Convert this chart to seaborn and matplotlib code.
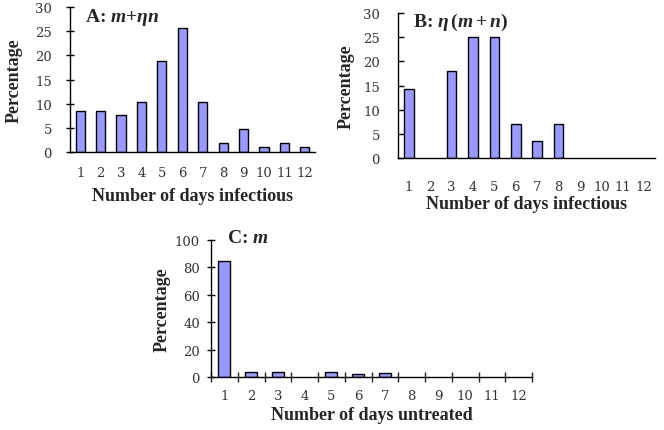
import numpy as np
import pandas as pd
import matplotlib
matplotlib.use("Agg")
import matplotlib.pyplot as plt
import seaborn as sns

# Data
days = [str(d) for d in range(1, 13)]
pct_a = [8.4, 8.4, 7.7, 10.4, 18.8, 25.6, 10.4, 1.9, 4.7, 1.0, 1.9, 1.0]
pct_b = [14.3, 0, 17.9, 25.0, 25.0, 7.1, 3.6, 7.1, 0, 0, 0, 0]
pct_c = [84.5, 3.4, 3.4, 0, 3.4, 1.9, 2.7, 0, 0, 0, 0, 0]

sns.set_theme(style="white")
plt.rcParams['font.family'] = ['Liberation Serif', 'DejaVu Serif']
plt.rcParams['mathtext.fontset'] = 'custom'
plt.rcParams['mathtext.it'] = 'Liberation Serif:italic:bold'
plt.rcParams['mathtext.rm'] = 'Liberation Serif:bold'

W, H = 664, 431
fig = plt.figure(figsize=(W / 100, H / 100), dpi=100)


def px_axes(left, right, top, bottom):
    return fig.add_axes([left / W, 1 - bottom / H, (right - left) / W, (bottom - top) / H])


bar_color = '#9999ff'
tick_font = dict(family='DejaVu Serif', size=9.5)

panels = [
    # box, values, ymax, ystep, title, title pos (px), xlabel, ytick dir, ytick pad, xtick pad, ylabel x (px), xlabel y (px), boundary ticks
    ((70, 315, 8, 153), pct_a, 30, 5, r'A: $m$+$\eta n$', (85, 18), 'Number of days infectious', 'inout', 10, 10, 14, 197, False),
    ((398, 655, 14, 159), pct_b, 30, 5, r'B: $\eta\,(m+n)$', (413, 22), 'Number of days infectious', 'in', 13, 16, 346, 205, False),
    ((211, 532, 241, 378), pct_c, 100, 20, r'C: $m$', (227, 239), 'Number of days untreated', 'inout', 5, 9, 162, 416, True),
]

for box, vals, ymax, ystep, title, tpos, xlabel, ydir, ypad, xpad, ylx, xly, xticks_between in panels:
    ax = px_axes(*box)
    df = pd.DataFrame({'day': days, 'pct': vals})
    sns.barplot(data=df, x='day', y='pct', color=bar_color, width=0.45,
                edgecolor='black', linewidth=1.0, saturation=1, ax=ax)
    # empty categories show no bar at all
    for p in ax.patches:
        if p.get_height() == 0:
            p.set_visible(False)
    ax.set_xlim(-0.5, 11.5)
    ax.set_ylim(0, ymax)
    ax.set_yticks(np.arange(0, ymax + 1, ystep))
    ax.spines['top'].set_visible(False)
    ax.spines['right'].set_visible(False)
    for s in ('left', 'bottom'):
        ax.spines[s].set_linewidth(1.0)
        ax.spines[s].set_color('black')
    ax.tick_params(axis='y', direction=ydir, length=6 if ydir == 'inout' else 4,
                   width=1, left=True, colors='black', labelcolor='#333333', pad=ypad)
    ax.tick_params(axis='x', length=0, labelcolor='#333333', pad=xpad)
    for lab in ax.get_xticklabels() + ax.get_yticklabels():
        lab.set_fontfamily(tick_font['family'])
        lab.set_fontsize(tick_font['size'])
    if xticks_between:
        ax.set_xticks(np.arange(-0.5, 12, 1), minor=True)
        ax.tick_params(axis='x', which='minor', direction='inout', length=7, width=1, bottom=True)
    ax.set_xlabel('')
    ax.set_ylabel('')
    cx = (box[0] + box[1]) / 2
    cy = (box[2] + box[3]) / 2
    fig.text(cx / W, 1 - xly / H, xlabel, fontsize=13, fontweight='bold',
             ha='center', va='center')
    fig.text(ylx / W, 1 - cy / H, 'Percentage', fontsize=13, fontweight='bold',
             ha='center', va='center', rotation=90)
    fig.text(tpos[0] / W, 1 - tpos[1] / H, title, fontsize=14,
             fontweight='bold', va='center', ha='left')

fig.savefig('out.png', dpi=100)
